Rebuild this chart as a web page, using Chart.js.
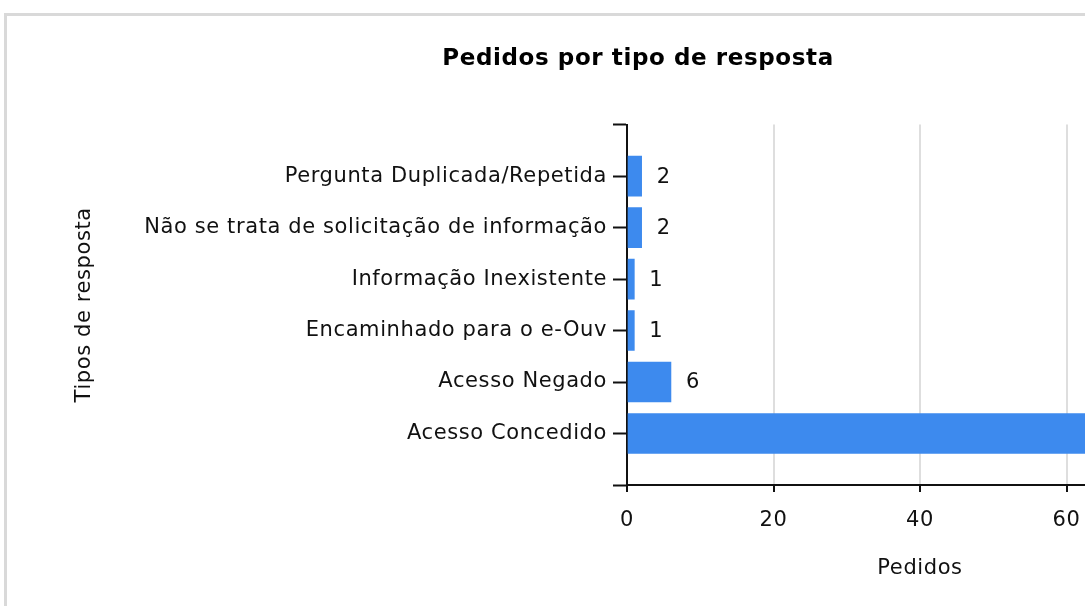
<!DOCTYPE html>
<html>
<head>
<meta charset="utf-8">
<script src="https://cdn.jsdelivr.net/npm/chart.js@4"></script>
<style>
  html, body { margin: 0; padding: 0; background: #fff; overflow: hidden; }
  #frame {
    position: absolute; left: 4px; top: 13px; width: 2000px; height: 1000px;
    border-left: 3px solid #d9d9d9; border-top: 3px solid #d9d9d9;
  }
  #wrap { position: absolute; left: 0; top: 0; width: 1276px; height: 606px; }
</style>
</head>
<body>
<div id="frame"></div>
<div id="wrap"><canvas id="chart" width="1276" height="606"></canvas></div>
<script>
// categories (blank slots at both ends keep a full gap above and below the bars)
const categories = ['', 'Pergunta Duplicada/Repetida', 'Não se trata de solicitação de informação',
  'Informação Inexistente', 'Encaminhado para o e-Ouv', 'Acesso Negado', 'Acesso Concedido', ''];
const pedidos = [null, 2, 2, 1, 1, 6, 72, null];
const xTicks = [0, 20, 40, 60, 80];

const FONT = "'DejaVu Sans', sans-serif";
const SIZE = 21;

// the source font is set a little loose, so open up the letters
const spacing = {
  id: 'spacing',
  beforeDraw(chart) { chart.ctx.letterSpacing = '0.6px'; }
};

// draws the value to the right of every bar
const valueLabels = {
  id: 'valueLabels',
  afterDatasetsDraw(chart) {
    const ctx = chart.ctx;
    const meta = chart.getDatasetMeta(0);
    ctx.save();
    ctx.font = SIZE + 'px ' + FONT;
    ctx.fillStyle = '#111';
    ctx.textAlign = 'left';
    ctx.textBaseline = 'middle';
    meta.data.forEach((bar, i) => {
      const v = pedidos[i];
      if (v === null) return;
      ctx.fillText(String(v), bar.x + 15, bar.y + 1);
    });
    ctx.restore();
  }
};

new Chart(document.getElementById('chart'), {
  type: 'bar',
  data: {
    labels: categories,
    datasets: [{
      label: 'Pedidos',
      data: pedidos,
      backgroundColor: '#3d8aee',
      borderWidth: 0,
      barThickness: 40
    }]
  },
  plugins: [spacing, valueLabels],
  options: {
    indexAxis: 'y',
    responsive: false,
    animation: false,
    layout: { padding: { left: 63, right: 63, top: 0, bottom: 0 } },
    plugins: {
      legend: { display: false },
      tooltip: { enabled: false },
      title: {
        display: true,
        text: 'Pedidos por tipo de resposta',
        color: '#000',
        font: { family: FONT, size: 23, weight: 'bold' },
        padding: { top: 45, bottom: 52 }
      }
    },
    scales: {
      x: {
        type: 'linear',
        min: 0,
        max: 80,
        afterBuildTicks: (scale) => { scale.ticks = xTicks.map(v => ({ value: v })); },
        afterFit: (scale) => { scale.height = 121; },
        ticks: { color: '#111', font: { family: FONT, size: SIZE }, padding: 16 },
        grid: { color: '#dedede', lineWidth: 2, tickLength: 7, tickColor: '#111', tickWidth: 2 },
        border: { color: '#111', width: 2 },
        title: {
          display: true, text: 'Pedidos', color: '#111',
          font: { family: FONT, size: SIZE }, padding: { top: 0, bottom: 25 }
        }
      },
      y: {
        offset: false,
        afterFit: (scale) => { scale.width = 564; },
        ticks: { color: '#111', font: { family: FONT, size: SIZE }, padding: 6, autoSkip: false },
        grid: { offset: false, drawOnChartArea: false, tickLength: 14, tickColor: '#111', tickWidth: 2 },
        border: { color: '#111', width: 2 },
        title: {
          display: true, text: 'Tipos de resposta', color: '#111',
          font: { family: FONT, size: SIZE }, padding: { top: 9, bottom: 0 }
        }
      }
    }
  }
});
</script>
</body>
</html>
